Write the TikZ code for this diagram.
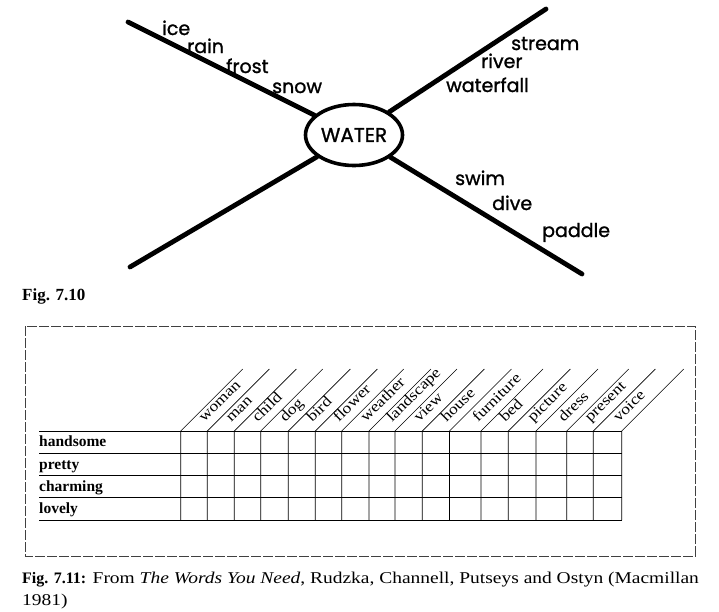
\documentclass[tikz,border=0pt]{standalone}
\usepackage{fontspec}
\setmainfont{Liberation Serif}
\newfontfamily\hand[FakeBold=1.2]{Poppins}
\newfontfamily\widefont[FakeStretch=1.18]{Liberation Serif}
\usetikzlibrary{shapes.geometric}
\begin{document}
\begin{tikzpicture}[x=1pt,y=-1pt,
  branch/.style={line width=4.8pt, line cap=round},
  hub/.style={draw, ellipse, line width=3.6pt, inner sep=0pt, minimum width=97pt, minimum height=61pt, font=\hand\fontsize{20}{20}\selectfont},
  word/.style={font=\hand\fontsize{19}{19}\selectfont, anchor=base west, inner sep=0pt},
  gridline/.style={line width=0.65pt},
  head/.style={font=\widefont\fontsize{15}{15}\selectfont, anchor=base west, inner sep=0pt, rotate=45},
  rowlab/.style={font=\bfseries\fontsize{15.5}{15.5}\selectfont, anchor=base west, inner sep=0pt},
  framebox/.style={line width=0.65pt, dash pattern=on 10pt off 2pt, black!75},
  caption/.style={anchor=base west, inner sep=0pt, font=\widefont\fontsize{16.5}{16.5}\selectfont}
]
\useasboundingbox (0,0) rectangle (719,611);
% ---- Fig 7.10 ----
\node[hub] (W) at (354,135) {WATER};
\coordinate (ul) at (128,22);
\coordinate (ur) at (546,9);
\coordinate (ll) at (130,267);
\coordinate (lr) at (582,274);
\draw[branch] (W) -- (ul);
\draw[branch] (W) -- (ur);
\draw[branch] (W) -- (ll);
\draw[branch] (W) -- (lr);
\node[word] (ice) at (162,35) {ice};
\node[word] (rain) at (187,53) {rain};
\node[word] (frost) at (226,73) {frost};
\node[word] (snow) at (272,93) {snow};
\node[word] (stream) at (511,50) {stream};
\node[word] (river) at (481,68) {river};
\node[word] (waterfall) at (446,92) {waterfall};
\node[word] (swim) at (455,185) {swim};
\node[word] (dive) at (492,210) {dive};
\node[word] (paddle) at (542,237) {paddle};
\node[anchor=base west, inner sep=0pt, font=\bfseries\fontsize{17}{17}\selectfont] (f710) at (22,300) {Fig. 7.10};
% ---- Fig 7.11 ----
\draw[framebox] (25,326) rectangle (695,556);
\foreach \y in {431,453.3,475.7,497.7,520}
  \draw[gridline] (39,\y) -- (621.7,\y);
\foreach \x in {180.7,207.3,234.3,260.7,288.3,315.3,341.7,369,395,422.3,449.5,481,508.3,536,566.7,593.3,621.7}
  \draw[gridline] (\x,520) -- (\x,431) -- ++(62,-62);
\foreach \x/\w in {207.3/woman,234.3/man,260.7/child,288.3/dog,315.3/bird,341.7/flower,369/weather,395/landscape,422.3/view,449.5/house,481/furniture,508.3/bed,536/picture,566.7/dress,593.3/present,621.7/voice}
  \node[head] (h-\w) at (\x-3,423) {\w};
\node[rowlab] (r1) at (39,446.5) {handsome};
\node[rowlab] (r2) at (39,469) {pretty};
\node[rowlab] (r3) at (39,491) {charming};
\node[rowlab] (r4) at (39,513.5) {lovely};
\node[caption] (c1) at (22,583) {{\normalfont\bfseries\fontsize{16}{16}\selectfont Fig. 7.11:} From \textit{The Words You Need}, Rudzka, Channell, Putseys and Ostyn (Macmillan};
\node[caption] (c2) at (22,605) {1981)};
\end{tikzpicture}
\end{document}
